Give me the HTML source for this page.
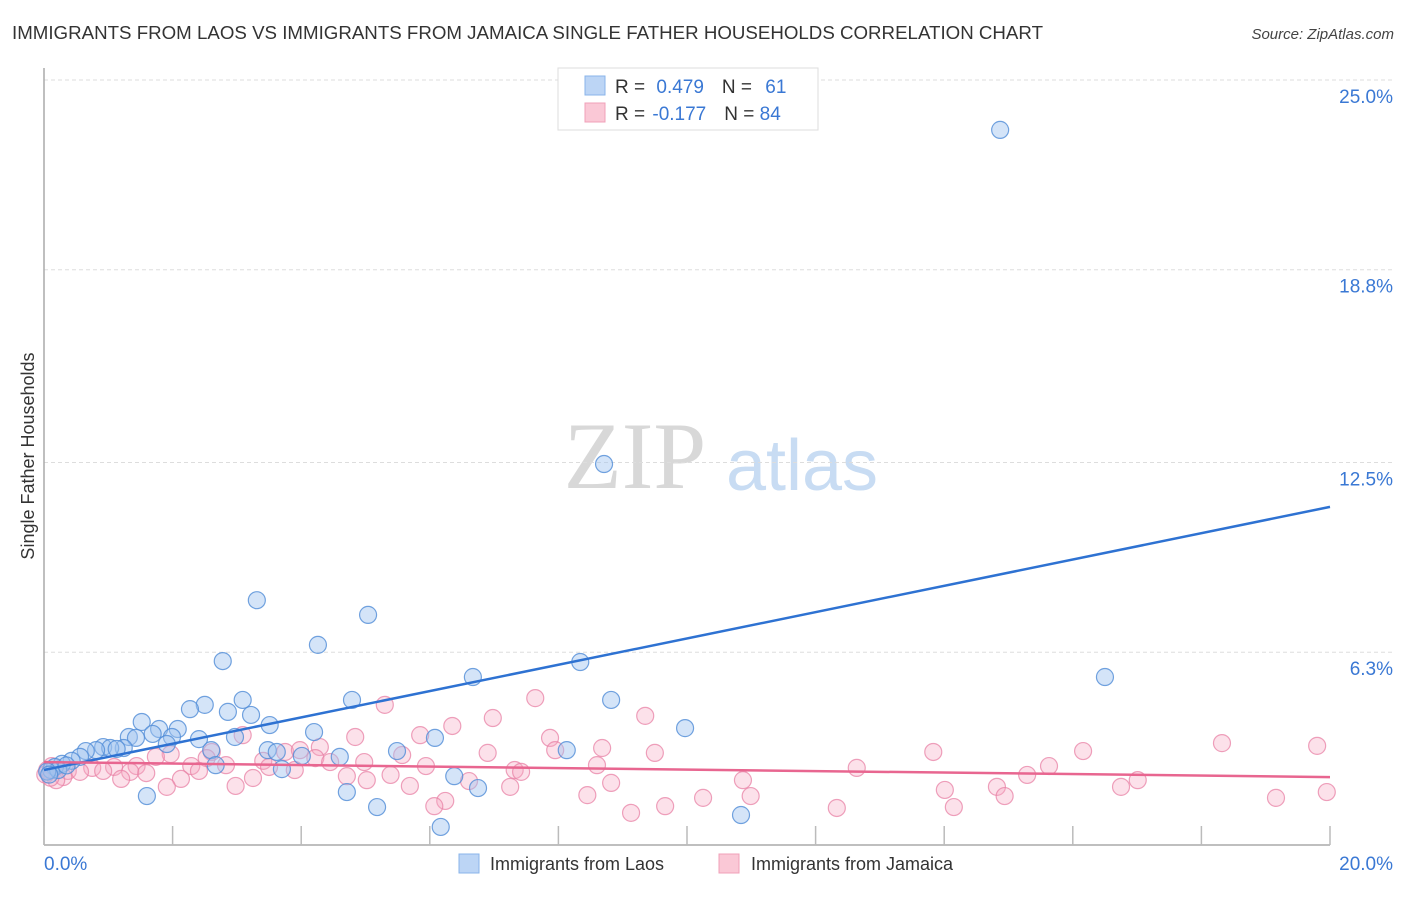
<!DOCTYPE html>
<html><head><meta charset="utf-8">
<style>
body{margin:0;background:#fff;font-family:"Liberation Sans",sans-serif;}
svg text{font-family:"Liberation Sans",sans-serif;}
</style></head>
<body>
<svg id="chart" width="1406" height="892" xmlns="http://www.w3.org/2000/svg">
<text x="12" y="39" font-size="18" fill="#333" textLength="1031" lengthAdjust="spacingAndGlyphs">IMMIGRANTS FROM LAOS VS IMMIGRANTS FROM JAMAICA SINGLE FATHER HOUSEHOLDS CORRELATION CHART</text>
<text x="1394" y="39" font-size="15" fill="#444" font-style="italic" text-anchor="end">Source: ZipAtlas.com</text>
<g>
<text x="635" y="488" font-size="95" fill="#d8d8d8" text-anchor="middle" font-family="Liberation Serif" style="font-family:'Liberation Serif',serif">ZIP</text>
<text x="802" y="490" font-size="72" fill="#c8dcf3" text-anchor="middle">atlas</text>
</g>
<g id="grid"></g>
<g id="axes"></g>
<g id="pts"></g>
<g id="trends"></g>
<text transform="translate(34,456) rotate(-90)" font-size="18" fill="#333" text-anchor="middle">Single Father Households</text>
<g>
<rect x="558" y="68" width="260" height="62" fill="#fff" stroke="#ddd"/>
<rect x="585" y="76" width="20" height="19" fill="#bcd5f5" stroke="#8ab4ea"/>
<rect x="585" y="103" width="20" height="19" fill="#fac8d6" stroke="#f0a0b8"/>
<text x="615" y="93" font-size="19" fill="#333">R = <tspan fill="#3a78d4" dx="6">0.479</tspan><tspan fill="#333" dx="18">N = </tspan><tspan fill="#3a78d4" dx="8">61</tspan></text>
<text x="615" y="120" font-size="19" fill="#333">R = <tspan fill="#3a78d4" dx="2">-0.177</tspan><tspan fill="#333" dx="18">N = </tspan><tspan fill="#3a78d4">84</tspan></text>
</g>
<g>
<rect x="459" y="854" width="20" height="19" fill="#bcd5f5" stroke="#8ab4ea"/>
<text x="490" y="870" font-size="18" fill="#333">Immigrants from Laos</text>
<rect x="719" y="854" width="20" height="19" fill="#fac8d6" stroke="#f0a0b8"/>
<text x="751" y="870" font-size="18" fill="#333">Immigrants from Jamaica</text>
</g>
</svg>
<script>
const yTicks=[25.0,18.8,12.5,6.3];
const yTickLabels=["25.0%","18.8%","12.5%","6.3%"];
const xTickVals=[0,2,4,6,8,10,12,14,16,18,20];
const xLabels=["0.0%","20.0%"];
const laosX=[14.87,8.71,3.31,5.04,4.26,2.78,8.34,16.5,6.67,4.79,8.82,3.09,2.5,2.27,2.86,3.22,1.52,3.51,9.97,1.79,2.08,4.2,1.69,1.32,1.43,2.97,1.99,2.41,6.08,1.91,1.24,0.92,1.03,1.13,2.6,0.81,0.65,3.48,5.49,8.13,3.62,4.01,0.56,4.6,0.43,0.28,0.17,0.11,2.67,3.7,6.38,6.75,4.71,1.6,5.18,10.84,6.17,0.22,0.05,0.35,0.08];
const laosY=[23.37,12.45,8.0,7.52,6.54,6.01,5.98,5.49,5.49,4.74,4.74,4.74,4.58,4.44,4.35,4.25,4.02,3.92,3.82,3.79,3.79,3.69,3.63,3.53,3.5,3.53,3.53,3.46,3.5,3.3,3.17,3.2,3.17,3.14,3.1,3.1,3.07,3.1,3.07,3.1,3.04,2.91,2.88,2.88,2.75,2.65,2.55,2.45,2.61,2.48,2.25,1.86,1.73,1.6,1.24,0.98,0.59,2.45,2.4,2.6,2.3];
const jamX=[7.64,5.3,9.35,6.98,6.35,5.85,3.09,4.84,7.87,18.32,19.8,4.29,7.95,8.68,16.16,13.83,9.5,1.97,2.61,6.9,3.75,3.98,5.57,4.22,1.74,2.53,3.41,4.45,4.98,8.6,5.94,15.63,12.64,0.12,0.05,2.29,2.83,1.44,1.09,0.75,7.32,7.42,3.9,3.5,0.37,0.56,0.92,1.34,2.41,1.59,4.71,5.39,15.29,0.3,0.19,1.2,2.13,3.25,5.02,6.61,10.87,17.01,8.82,5.69,7.25,1.91,2.98,14.01,16.75,14.82,19.95,10.99,14.94,8.45,10.25,6.24,19.16,6.07,14.15,12.33,9.66,9.13,0.02,0.1];
const jamY=[4.8,4.58,4.22,4.15,3.89,3.59,3.59,3.53,3.5,3.33,3.24,3.2,3.1,3.17,3.07,3.04,3.01,2.97,3.04,3.01,3.04,3.1,2.94,2.84,2.88,2.84,2.75,2.71,2.71,2.61,2.58,2.58,2.52,2.58,2.45,2.58,2.61,2.58,2.55,2.52,2.45,2.39,2.45,2.55,2.42,2.39,2.42,2.39,2.42,2.35,2.25,2.29,2.29,2.22,2.12,2.16,2.16,2.19,2.12,2.09,2.12,2.12,2.03,1.93,1.9,1.9,1.93,1.8,1.9,1.9,1.73,1.6,1.6,1.63,1.54,1.44,1.54,1.27,1.24,1.21,1.27,1.05,2.3,2.2];
const laosTrend=[2.45,11.05];
const jamTrend=[2.71,2.22];
const NS="http://www.w3.org/2000/svg";
const X0=44,X1=1330,Y0=845,Y25=80;
const sx=v=>X0+v/20*(X1-X0);
const sy=v=>Y0-v/25*(Y0-Y25);
function mk(tag,attrs,parent){const e=document.createElementNS(NS,tag);for(const k in attrs)e.setAttribute(k,attrs[k]);parent.appendChild(e);return e;}
const grid=document.getElementById('grid'),axes=document.getElementById('axes'),pts=document.getElementById('pts'),tr=document.getElementById('trends');
yTicks.forEach((t,i)=>{
 const l=mk('line',{x1:X0,x2:1394,y1:sy(t),y2:sy(t),stroke:'#ddd','stroke-dasharray':'4,3'},grid);
 
 
 const tx=mk('text',{x:1393,y:sy(t)+23,'font-size':19,fill:'#3a78d4','text-anchor':'end'},grid);
 tx.textContent=yTickLabels[i];
 
 
});
mk('line',{x1:X0,x2:X0,y1:68,y2:Y0,stroke:'#aaa','stroke-width':1.5},axes);
mk('line',{x1:X0,x2:X1,y1:Y0,y2:Y0,stroke:'#aaa','stroke-width':1.5},axes);
xTickVals.forEach(v=>{const t=mk('line',{x1:sx(v),x2:sx(v),y1:826,y2:Y0,stroke:'#bbb','stroke-width':1.5},axes);
 
 });
const xl0=mk('text',{x:44,y:870,'font-size':19,fill:'#3a78d4'},axes);xl0.textContent=xLabels[0];


const xl1=mk('text',{x:1393,y:870,'font-size':19,fill:'#3a78d4','text-anchor':'end'},axes);xl1.textContent=xLabels[1];


jamX.forEach((v,i)=>{const c=mk('circle',{cx:sx(v),cy:sy(jamY[i]),r:8.5,fill:'rgba(245,170,195,0.35)',stroke:'rgba(232,130,165,0.75)','stroke-width':1.2},pts);
 
 });
laosX.forEach((v,i)=>{const c=mk('circle',{cx:sx(v),cy:sy(laosY[i]),r:8.5,fill:'rgba(160,195,240,0.45)',stroke:'rgba(80,140,215,0.8)','stroke-width':1.2},pts);
 
 });
const lt=mk('line',{x1:sx(0),y1:sy(laosTrend[0]),x2:sx(20),y2:sy(laosTrend[1]),stroke:'#2e72d2','stroke-width':2.5},tr);


const jt=mk('line',{x1:sx(0),y1:sy(jamTrend[0]),x2:sx(20),y2:sy(jamTrend[1]),stroke:'#e86690','stroke-width':2.5},tr);


</script>
</body></html>
